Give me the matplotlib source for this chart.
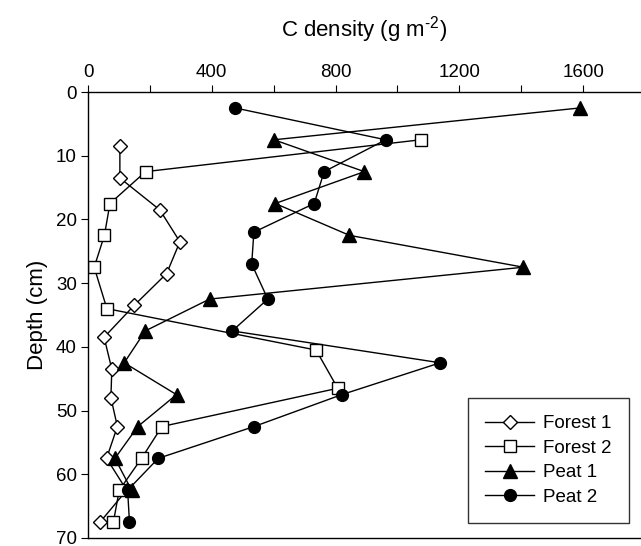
import numpy as np
import matplotlib
matplotlib.use('Agg')
import matplotlib.pyplot as plt
from matplotlib.ticker import MultipleLocator

plt.rcParams['font.family'] = ['Liberation Sans', 'DejaVu Sans']
plt.rcParams['mathtext.fontset'] = 'custom'
plt.rcParams['mathtext.rm'] = 'Liberation Sans'
plt.rcParams['mathtext.it'] = 'Liberation Sans:italic'

# depths (cm) and C density (g m-2)
forest1_depth = [8.5, 13.5, 18.5, 23.5, 28.5, 33.5, 38.5, 43.5, 48, 52.5, 57.5, 62.5, 67.5]
forest1_c = [103, 103, 232, 297, 254, 149, 52, 77, 74, 95, 60, 125, 39]

forest2_depth = [7.5, 12.5, 17.5, 22.5, 27.5, 34, 40.5, 46.5, 52.5, 57.5, 62.5, 67.5]
forest2_c = [1075, 186, 71, 53, 20, 61, 737, 807, 239, 173, 101, 82]

peat1_depth = [2.5, 7.5, 12.5, 17.5, 22.5, 27.5, 32.5, 37.5, 42.5, 47.5, 52.5, 57.5, 62.5]
peat1_c = [1590, 601, 893, 605, 845, 1407, 393, 185, 117, 286, 161, 87, 141]

peat2_depth = [2.5, 7.5, 12.5, 17.5, 22, 27, 32.5, 37.5, 42.5, 47.5, 52.5, 57.5, 62.5, 67.5]
peat2_c = [475, 962, 763, 731, 536, 529, 581, 466, 1138, 820, 537, 227, 128, 134]

fig = plt.figure(figsize=(6.41, 5.46), dpi=100)
ax = fig.add_axes([88 / 641, 8 / 546, 553 / 641, 446 / 546])

lw = 1.0
ax.plot(forest1_c, forest1_depth, color='black', lw=lw, marker='D', ms=7,
        mfc='white', mec='black', mew=1.0, label='Forest 1')
ax.plot(forest2_c, forest2_depth, color='black', lw=lw, marker='s', ms=8.5,
        mfc='white', mec='black', mew=1.0, label='Forest 2')
ax.plot(peat1_c, peat1_depth, color='black', lw=lw, marker='^', ms=9.5,
        mfc='black', mec='black', label='Peat 1')
ax.plot(peat2_c, peat2_depth, color='black', lw=lw, marker='o', ms=8.5,
        mfc='black', mec='black', label='Peat 2')

ax.set_xlim(0, 1787)
ax.set_ylim(70, 0)
ax.xaxis.set_major_locator(MultipleLocator(400))
ax.xaxis.set_minor_locator(MultipleLocator(200))
ax.yaxis.set_major_locator(MultipleLocator(10))

ax.xaxis.tick_top()
ax.xaxis.set_label_position('top')
ax.tick_params(axis='x', which='both', direction='out', length=5, width=0.8,
               labelsize=13.5, pad=3)
ax.tick_params(axis='y', direction='out', length=5, width=0.8, labelsize=13.5, pad=3)
ax.spines['right'].set_visible(False)
for s in ['top', 'left', 'bottom']:
    ax.spines[s].set_linewidth(1.0)

ax.set_xlabel('C density (g m$^{\u2010 2}$)', fontsize=16, labelpad=20)
ax.set_ylabel('Depth (cm)', fontsize=16, labelpad=6)

leg = ax.legend(loc='lower right', bbox_to_anchor=(0.978, 0.034), borderaxespad=0,
                fontsize=13.5, frameon=True, fancybox=False, edgecolor='black',
                handlelength=2.6, handletextpad=0.5, labelspacing=0.4,
                borderpad=0.9)
leg.get_frame().set_linewidth(1.0)

plt.savefig('out.png', dpi=100)
